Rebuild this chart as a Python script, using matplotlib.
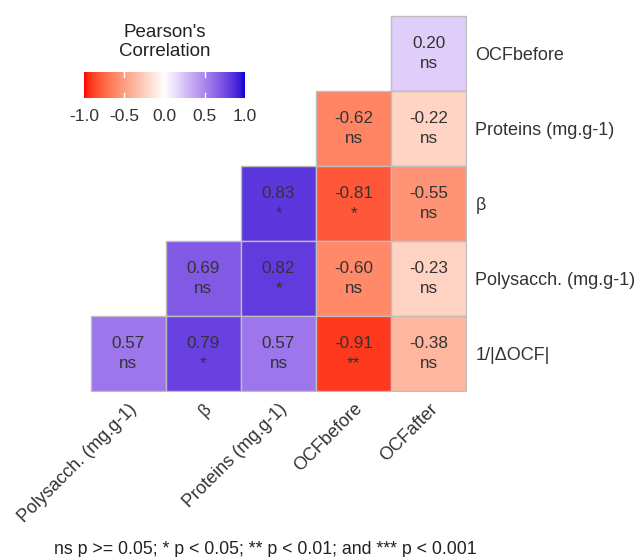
import numpy as np
import matplotlib
matplotlib.use("Agg")
import matplotlib.pyplot as plt
from matplotlib.colors import ListedColormap, Normalize, to_rgb
from matplotlib.patches import Rectangle

plt.rcParams['font.family'] = ['Liberation Sans', 'DejaVu Sans']

# variables along the columns (left to right) and rows (top to bottom)
col_labels = ["Polysacch. (mg.g-1)", "\u03b2", "Proteins (mg.g-1)", "OCFbefore", "OCFafter"]
row_labels = ["OCFbefore", "Proteins (mg.g-1)", "\u03b2", "Polysacch. (mg.g-1)", "1/|\u0394OCF|"]

nan = np.nan
corr = np.array([
    [nan,  nan,  nan,  nan,   0.20],
    [nan,  nan,  nan,  -0.62, -0.22],
    [nan,  nan,  0.83, -0.81, -0.55],
    [nan,  0.69, 0.82, -0.60, -0.23],
    [0.57, 0.79, 0.57, -0.91, -0.38],
])
signif = [
    [None, None, None, None, "ns"],
    [None, None, None, "ns", "ns"],
    [None, None, "*", "*", "ns"],
    [None, "ns", "*", "ns", "ns"],
    ["ns", "*", "ns", "**", "ns"],
]

footer = "ns p >= 0.05; * p < 0.05; ** p < 0.01; and *** p < 0.001"


# --- Lab colour interpolation (red - white - blue diverging scale)
def srgb_to_lab(rgb):
    c = np.asarray(rgb, dtype=float)
    lin = np.where(c <= 0.04045, c / 12.92, ((c + 0.055) / 1.055) ** 2.4)
    M = np.array([[0.4124, 0.3576, 0.1805],
                  [0.2126, 0.7152, 0.0722],
                  [0.0193, 0.1192, 0.9505]])
    xyz = M @ lin / np.array([0.95047, 1.0, 1.08883])
    f = np.where(xyz > 0.008856, np.cbrt(xyz), 7.787 * xyz + 16 / 116)
    return np.array([116 * f[1] - 16, 500 * (f[0] - f[1]), 200 * (f[1] - f[2])])


def lab_to_srgb(lab):
    L, a, b = lab
    fy = (L + 16) / 116
    fx = fy + a / 500
    fz = fy - b / 200
    f = np.array([fx, fy, fz])
    xyz = np.where(f ** 3 > 0.008856, f ** 3, (f - 16 / 116) / 7.787)
    xyz = xyz * np.array([0.95047, 1.0, 1.08883])
    Minv = np.array([[3.2406, -1.5372, -0.4986],
                     [-0.9689, 1.8758, 0.0415],
                     [0.0557, -0.2040, 1.0570]])
    lin = Minv @ xyz
    lin = np.clip(lin, 0, 1)
    c = np.where(lin <= 0.0031308, 12.92 * lin, 1.055 * lin ** (1 / 2.4) - 0.055)
    return np.clip(c, 0, 1)


lab_low = srgb_to_lab(to_rgb("#FF0000"))
lab_mid = srgb_to_lab(to_rgb("#FFFFFF"))
lab_high = srgb_to_lab(to_rgb("#0600D6"))
colors = []
for v in np.linspace(-1, 1, 256):
    if v < 0:
        lab = lab_mid + (lab_low - lab_mid) * (-v)
    else:
        lab = lab_mid + (lab_high - lab_mid) * v
    colors.append(lab_to_srgb(lab))
cmap = ListedColormap(colors)
norm = Normalize(-1, 1)

fig = plt.figure(figsize=(6.38, 5.57), dpi=100)
ax = fig.add_axes([90 / 638, 1 - 392 / 557, 377 / 638, 377 / 557])
ax.patch.set_alpha(0)

n_rows, n_cols = corr.shape
for i in range(n_rows):
    for j in range(n_cols):
        if np.isnan(corr[i, j]):
            continue
        ax.add_patch(Rectangle((j, i), 1, 1, facecolor=cmap(norm(corr[i, j])),
                               edgecolor="#bdbdbd", linewidth=1.0))
        ax.text(j + 0.5, i + 0.5, f"{corr[i, j]:.2f}\n{signif[i][j]}",
                ha="center", va="center", fontsize=12.3, color="#333333",
                linespacing=1.4)
ax.set_xlim(-0.01, n_cols + 0.01)
ax.set_ylim(n_rows + 0.01, -0.01)

for s in ax.spines.values():
    s.set_visible(False)
ax.tick_params(length=0)
ax.set_xticks(np.arange(n_cols) + 0.5)
ax.set_xticklabels(col_labels, rotation=45, ha="right", va="top",
                   rotation_mode="anchor", fontsize=13, color="#333333")
ax.set_yticks(np.arange(n_rows) + 0.5)
ax.set_yticklabels(row_labels, fontsize=13, color="#333333")
ax.yaxis.tick_right()
ax.tick_params(axis="y", pad=6)
ax.tick_params(axis="x", pad=6)

# colour bar legend
cax = fig.add_axes([84 / 638, 1 - 98 / 557, 161 / 638, 26 / 557])
grad = np.linspace(-1, 1, 256).reshape(1, -1)
cax.imshow(grad, cmap=cmap, vmin=-1, vmax=1, aspect="auto",
           extent=[-1, 1, 0, 1])
for t in [-0.5, 0.0, 0.5]:
    cax.plot([t, t], [0, 0.2], color="white", lw=1)
    cax.plot([t, t], [0.8, 1], color="white", lw=1)
cax.set_xlim(-1, 1)
cax.set_ylim(0, 1)
cax.set_yticks([])
cax.set_xticks([-1.0, -0.5, 0.0, 0.5, 1.0])
cax.set_xticklabels(["-1.0", "-0.5", "0.0", "0.5", "1.0"], fontsize=12.5,
                    color="#333333")
cax.tick_params(length=0, pad=8)
for s in cax.spines.values():
    s.set_visible(False)
fig.text(165 / 638, 1 - 42 / 557, "Pearson's\nCorrelation", ha="center",
         va="center", fontsize=13.5, color="#222222", linespacing=1.1)

fig.text(265 / 638, 1 - 549 / 557, footer, ha="center", va="center",
         fontsize=12.8, color="#222222")

fig.savefig("out.png", dpi=100)
